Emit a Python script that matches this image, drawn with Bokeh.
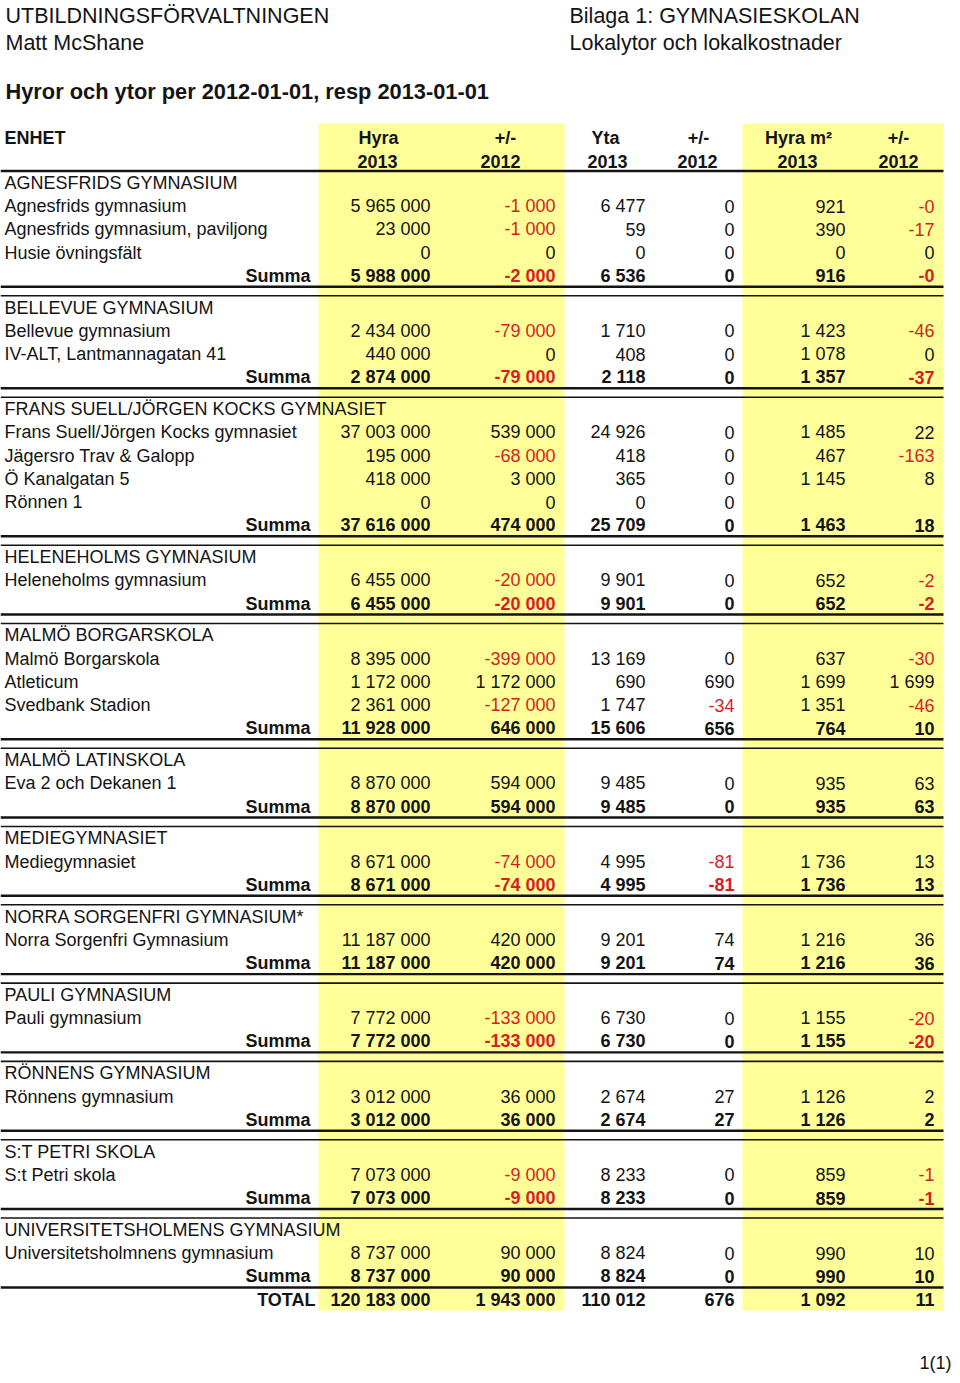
import math
from bokeh.plotting import figure
from bokeh.models import Range1d, ColumnDataSource
from bokeh.core.properties import value
from bokeh.embed import file_html
from bokeh.resources import INLINE

# ---------------- data ----------------
title_left = ["UTBILDNINGSFÖRVALTNINGEN", "Matt McShane"]
title_right = ["Bilaga 1: GYMNASIESKOLAN", "Lokalytor och lokalkostnader"]
main_title = "Hyror och ytor per 2012-01-01, resp 2013-01-01"
first_col_head = "ENHET"
col_head_1 = ["Hyra", "+/-", "Yta", "+/-", "Hyra m²", "+/-"]
col_head_2 = ["2013", "2012", "2013", "2012", "2013", "2012"]
page_no = "1(1)"

# G = group heading, U = unit, S = Summa, T = TOTAL
row_kind = [
    "G", "U", "U", "U", "S",
    "G", "U", "U", "S",
    "G", "U", "U", "U", "U", "S",
    "G", "U", "S",
    "G", "U", "U", "U", "S",
    "G", "U", "S",
    "G", "U", "S",
    "G", "U", "S",
    "G", "U", "S",
    "G", "U", "S",
    "G", "U", "S",
    "G", "U", "S",
    "T",
]
row_label = [
    "AGNESFRIDS GYMNASIUM", "Agnesfrids gymnasium", "Agnesfrids gymnasium, paviljong", "Husie övningsfält", "Summa",
    "BELLEVUE GYMNASIUM", "Bellevue gymnasium", "IV-ALT, Lantmannagatan 41", "Summa",
    "FRANS SUELL/JÖRGEN KOCKS GYMNASIET", "Frans Suell/Jörgen Kocks gymnasiet", "Jägersro Trav & Galopp", "Ö Kanalgatan 5", "Rönnen 1", "Summa",
    "HELENEHOLMS GYMNASIUM", "Heleneholms gymnasium", "Summa",
    "MALMÖ BORGARSKOLA", "Malmö Borgarskola", "Atleticum", "Svedbank Stadion", "Summa",
    "MALMÖ LATINSKOLA", "Eva 2 och Dekanen 1", "Summa",
    "MEDIEGYMNASIET", "Mediegymnasiet", "Summa",
    "NORRA SORGENFRI GYMNASIUM*", "Norra Sorgenfri Gymnasium", "Summa",
    "PAULI GYMNASIUM", "Pauli gymnasium", "Summa",
    "RÖNNENS GYMNASIUM", "Rönnens gymnasium", "Summa",
    "S:T PETRI SKOLA", "S:t Petri skola", "Summa",
    "UNIVERSITETSHOLMENS GYMNASIUM", "Universitetsholmnens gymnasium", "Summa",
    "TOTAL",
]
hyra_2013 = [
    None, 5965000, 23000, 0, 5988000,
    None, 2434000, 440000, 2874000,
    None, 37003000, 195000, 418000, 0, 37616000,
    None, 6455000, 6455000,
    None, 8395000, 1172000, 2361000, 11928000,
    None, 8870000, 8870000,
    None, 8671000, 8671000,
    None, 11187000, 11187000,
    None, 7772000, 7772000,
    None, 3012000, 3012000,
    None, 7073000, 7073000,
    None, 8737000, 8737000,
    120183000,
]
hyra_diff = [
    None, -1000, -1000, 0, -2000,
    None, -79000, 0, -79000,
    None, 539000, -68000, 3000, 0, 474000,
    None, -20000, -20000,
    None, -399000, 1172000, -127000, 646000,
    None, 594000, 594000,
    None, -74000, -74000,
    None, 420000, 420000,
    None, -133000, -133000,
    None, 36000, 36000,
    None, -9000, -9000,
    None, 90000, 90000,
    1943000,
]
yta_2013 = [
    None, 6477, 59, 0, 6536,
    None, 1710, 408, 2118,
    None, 24926, 418, 365, 0, 25709,
    None, 9901, 9901,
    None, 13169, 690, 1747, 15606,
    None, 9485, 9485,
    None, 4995, 4995,
    None, 9201, 9201,
    None, 6730, 6730,
    None, 2674, 2674,
    None, 8233, 8233,
    None, 8824, 8824,
    110012,
]
yta_diff = [
    None, 0, 0, 0, 0,
    None, 0, 0, 0,
    None, 0, 0, 0, 0, 0,
    None, 0, 0,
    None, 0, 690, -34, 656,
    None, 0, 0,
    None, -81, -81,
    None, 74, 74,
    None, 0, 0,
    None, 27, 27,
    None, 0, 0,
    None, 0, 0,
    676,
]
hyra_m2_2013 = [
    None, 921, 390, 0, 916,
    None, 1423, 1078, 1357,
    None, 1485, 467, 1145, None, 1463,
    None, 652, 652,
    None, 637, 1699, 1351, 764,
    None, 935, 935,
    None, 1736, 1736,
    None, 1216, 1216,
    None, 1155, 1155,
    None, 1126, 1126,
    None, 859, 859,
    None, 990, 990,
    1092,
]
hyra_m2_diff = [
    None, -0.0, -17, 0, -0.0,
    None, -46, 0, -37,
    None, 22, -163, 8, None, 18,
    None, -2, -2,
    None, -30, 1699, -46, 10,
    None, 63, 63,
    None, 13, 13,
    None, 36, 36,
    None, -20, -20,
    None, 2, 2,
    None, -1, -1,
    None, 10, 10,
    11,
]
value_columns = [hyra_2013, hyra_diff, yta_2013, yta_diff, hyra_m2_2013, hyra_m2_diff]

# ---------------- layout / style ----------------
FONT = value("Liberation Sans")
BLACK = "#141414"
RED = "#d81e1e"
YELLOW = "#ffff99"
col_right = [430, 555, 645, 734, 845, 934]
head1_center = [378, 505, 605, 698, 798, 898]
head2_center = [377, 500, 607, 697, 797, 898]
LEFT_X = 4
SUMMA_X = 310
TOTAL_X = 315
Y0, PITCH, GAP = 188.5, 23.2, 31.9
TABLE_RIGHT = 943
TEXT_DY = -6   # baseline correction for the SVG text rendering


def fmt(v):
    if v is None:
        return ""
    neg = v < 0 or (v == 0 and math.copysign(1, v) < 0)
    return ("-" if neg else "") + f"{abs(v):,.0f}".replace(",", " ")


def is_neg(v):
    return v is not None and (v < 0 or (v == 0 and math.copysign(1, v) < 0))


row_y = []
cur = Y0
for i, k in enumerate(row_kind):
    if i > 0:
        cur += GAP if k == "G" else PITCH
    row_y.append(cur)

W, H = 952, 1375
p = figure(width=W, height=H, x_range=Range1d(0, W), y_range=Range1d(H, 0),
           output_backend="svg", toolbar_location=None, x_axis_type=None, y_axis_type=None,
           min_border=0, background_fill_color="white", border_fill_color="white")
p.outline_line_color = None
p.grid.visible = False

# yellow bands
p.quad(left=[318, 742], right=[564, TABLE_RIGHT], top=[123, 123], bottom=[1310, 1310],
       fill_color=YELLOW, line_color=None)

# rules
thick_y, thin_y = [170.5], []
for i, k in enumerate(row_kind):
    if k == "S":
        nxt = row_kind[i + 1] if i + 1 < len(row_kind) else None
        if nxt == "G":
            thick_y.append(row_y[i] + 5)
            thin_y.append(row_y[i] + 14)
        else:
            thick_y.append(row_y[i] + 5.2)
p.segment(x0=[0] * len(thick_y), x1=[TABLE_RIGHT] * len(thick_y), y0=thick_y, y1=thick_y,
          line_color=BLACK, line_width=2.4)
p.segment(x0=[0] * len(thin_y), x1=[TABLE_RIGHT] * len(thin_y), y0=thin_y, y1=thin_y,
          line_color=BLACK, line_width=1.6)


def add_text(xs, ys, texts, colors, align, size, bold):
    src = ColumnDataSource(dict(x=xs, y=[v + TEXT_DY for v in ys], text=texts, color=colors))
    p.text(x="x", y="y", text="text", source=src, text_color="color", text_align=align,
           text_baseline="alphabetic", text_font=FONT, text_font_size=size,
           text_font_style="bold" if bold else "normal")


# page header
add_text([5, 5], [21, 48.3], title_left, [BLACK] * 2, "left", "21.5px", False)
add_text([569, 569], [21.5, 48.3], title_right, [BLACK] * 2, "left", "21.5px", False)
add_text([5], [97], [main_title], [BLACK], "left", "21.8px", True)
add_text([LEFT_X], [143], [first_col_head], [BLACK], "left", "18px", True)
add_text(head1_center, [143] * 6, col_head_1, [BLACK] * 6, "center", "18px", True)
add_text(head2_center, [166.5] * 6, col_head_2, [BLACK] * 6, "center", "18px", True)

# row labels
lx, ly, lt = [], [], []
sx, sy, st = [], [], []
for i, k in enumerate(row_kind):
    if k in ("G", "U"):
        lx.append(LEFT_X); ly.append(row_y[i]); lt.append(row_label[i])
    else:
        sx.append(SUMMA_X if k == "S" else TOTAL_X); sy.append(row_y[i]); st.append(row_label[i])
add_text(lx, ly, lt, [BLACK] * len(lt), "left", "18px", False)
add_text(sx, sy, st, [BLACK] * len(st), "right", "18px", True)

# numbers
nx, ny, nt, nc = [], [], [], []
bx, by, bt, bc = [], [], [], []
for i, k in enumerate(row_kind):
    if k == "G":
        continue
    for c, col in enumerate(value_columns):
        v = col[i]
        if v is None:
            continue
        color = RED if is_neg(v) else BLACK
        if k == "U":
            nx.append(col_right[c]); ny.append(row_y[i]); nt.append(fmt(v)); nc.append(color)
        else:
            bx.append(col_right[c]); by.append(row_y[i]); bt.append(fmt(v)); bc.append(color)
add_text(nx, ny, nt, nc, "right", "18px", False)
add_text(bx, by, bt, bc, "right", "18px", True)

# page number
add_text([951], [1368], [page_no], [BLACK], "right", "18px", False)

open("out.html", "w").write(file_html(p, INLINE))
